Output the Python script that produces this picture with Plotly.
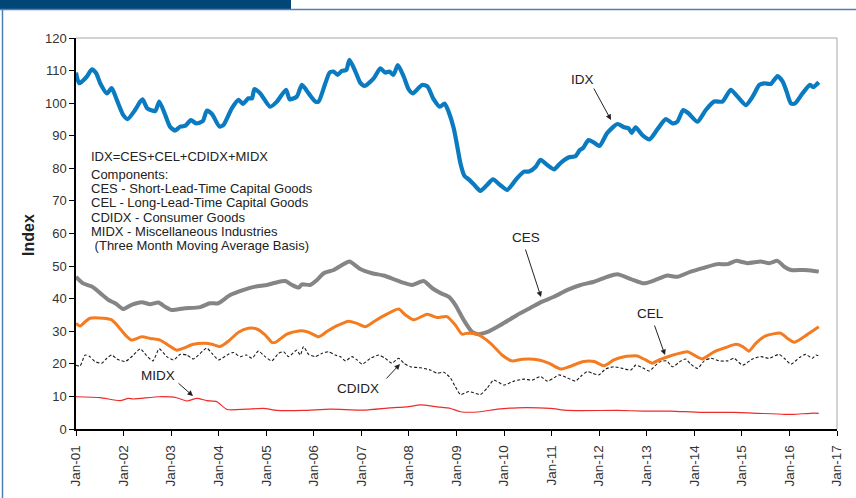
import pandas as pd
import plotly.graph_objects as go

# ---------------- data (months since Jan-2001, index value) ----------------
idx_m = [0, 0.8, 2.7, 4, 5.1, 6.1, 7.8, 9, 10.3, 11.9, 13, 14.9, 16.2, 16.8, 18, 20, 21, 22.5, 23.7, 25,
         26.3, 27.5, 29, 30.3, 32, 33, 34.3, 36.2, 37.2, 39.3, 41, 42.1, 43.5, 44.4, 45, 46.5, 49, 50.7,
         53, 53.9, 55.7, 57, 58.7, 60.4, 61.2, 62.9, 64, 65, 66, 67.1, 68.2, 69, 70.5, 71.7, 72.8, 75.1,
         76.8, 78, 79.1, 80.1, 81.2, 82.7, 83.9, 85, 87.3, 88.7, 90.1, 91.8, 93, 94, 95.3, 96.2, 97, 98,
         99.1, 100.5, 102, 103.7, 105.2, 107, 108.8, 111.3, 113, 114.3, 116, 117.2, 118.9, 120.6, 122.3,
         124.4, 126, 127.1, 127.9, 129.3, 130.7, 132.1, 134, 136.6, 138.3, 139.4, 140.2, 141.2, 142.9,
         144.7, 146.7, 148.8, 150.5, 151.7, 153.2, 154.5, 156.8, 158.9, 161, 163.1, 165.2, 166.9, 169,
         170.7, 172.4, 173.6, 175.3, 177, 178.3, 179.3, 180.4, 181.4, 183.3, 185.2, 186, 187.4]
idx_v = [109.4, 106.1, 108.1, 110.4, 109.2, 106.1, 103.0, 104.6, 101.0, 96.4, 95.1, 97.9, 100.5, 101.2,
         98.4, 97.6, 100.5, 96.4, 92.8, 91.6, 92.8, 93.0, 94.8, 93.8, 94.5, 97.7, 96.7, 92.8, 93.3, 98.4,
         101.0, 99.8, 101.5, 101.5, 104.3, 103.0, 98.9, 100.5, 104.1, 101.2, 102.0, 105.6, 103.0, 100.5,
         100.5, 106.1, 109.4, 109.7, 108.7, 109.9, 110.2, 113.3, 109.7, 106.3, 105.3, 107.6, 110.7, 109.4,
         109.7, 108.7, 111.7, 108.1, 104.3, 103.0, 105.6, 105.1, 101.5, 98.9, 99.9, 97.4, 92.3, 86.7, 81.5,
         77.7, 76.6, 74.9, 73.1, 74.9, 76.6, 74.9, 73.4, 77.0, 79.0, 79.0, 80.5, 82.6, 81.0, 79.7, 81.7,
         83.4, 83.7, 85.6, 86.2, 88.7, 87.9, 86.9, 90.8, 93.6, 92.6, 92.3, 90.9, 92.6, 90.2, 88.9, 92.0,
         95.1, 93.8, 94.3, 97.9, 96.9, 94.3, 97.9, 100.5, 100.5, 104.1, 102.0, 99.4, 102.0, 105.6, 106.1,
         105.9, 108.3, 106.6, 103.5, 99.9, 99.9, 103.0, 105.6, 104.9, 106.4]

ces_m = [0, 1.8, 4, 6.1, 8.2, 9.9, 11.9, 14, 16.6, 18.7, 20.8, 22.5, 24.2, 27.1, 31.3, 33.8, 35.9, 38.9,
         42.3, 45.2, 48.2, 50.3, 52.8, 54.5, 56.2, 57, 59.1, 60.8, 62.5, 65, 67.1, 69, 71.7, 74.7, 77.6,
         80.1, 82.3, 84.8, 87.7, 89.9, 92, 94, 95.7, 97.8, 100, 101.6, 103.7, 107.1, 111.3, 114.7, 117.6,
         120.6, 124, 127.3, 130.7, 134, 136.6, 140, 143.3, 146.7, 149.2, 151.7, 155.1, 158.5, 161.8, 164.4,
         166.5, 169.4, 172.8, 174.9, 177, 178.7, 180.4, 183.7, 186.2, 187.4]
ces_v = [46.7, 44.7, 43.7, 41.7, 39.6, 38.6, 36.8, 38.1, 38.9, 38.3, 38.8, 37.5, 36.5, 37.0, 37.4, 38.6,
         38.6, 41.1, 42.7, 43.7, 44.2, 44.9, 45.4, 44.2, 43.4, 44.4, 44.2, 45.7, 47.8, 48.8, 50.3, 51.4,
         49.1, 47.8, 47.1, 46.0, 45.0, 44.2, 45.4, 43.2, 41.7, 40.6, 38.1, 33.5, 29.7, 29.1, 29.7, 31.9,
         35.0, 37.2, 39.1, 40.6, 42.7, 44.2, 45.2, 46.7, 47.5, 46.0, 44.7, 46.0, 47.1, 46.7, 48.3, 49.5,
         50.6, 50.6, 51.6, 50.9, 51.4, 50.9, 51.6, 49.8, 48.8, 48.8, 48.5, 48.3]

cel_m = [0, 1, 2.3, 3.5, 6.9, 9, 10.7, 12.4, 14, 16.6, 18.7, 21.2, 23.2, 25.4, 27.1, 29.6, 32.6, 34.3,
         36.4, 38.5, 41, 43.5, 45.6, 47.7, 49.4, 50.3, 53.2, 56.2, 58.7, 61.2, 63.3, 65.9, 68.8, 70.9, 73,
         75.1, 77.6, 81.4, 83.1, 85.2, 88.6, 91.1, 93.6, 95.7, 97.4, 98.7, 101.2, 104.6, 107.5, 110, 112.6,
         116.8, 119.3, 122.3, 124.4, 128.1, 130.7, 133.2, 135.7, 138.3, 141.6, 143.7, 145.4, 147.1, 150.1,
         154.3, 155.9, 158, 161, 163.9, 166.5, 168.2, 169.8, 171.5, 174, 177.8, 179.5, 181.2, 183.7, 186.2,
         187.4]
cel_v = [32.4, 31.6, 32.9, 34.0, 34.0, 33.5, 31.4, 28.9, 27.3, 28.3, 27.8, 27.3, 25.8, 24.2, 24.8, 26.0,
         26.3, 26.0, 25.3, 27.0, 29.7, 30.9, 30.7, 28.9, 26.6, 26.6, 29.1, 30.1, 29.7, 28.3, 29.9, 31.7,
         33.1, 32.4, 31.4, 32.9, 34.7, 36.8, 35.0, 33.5, 35.2, 34.2, 34.5, 31.9, 29.1, 29.4, 29.1, 26.3,
         22.7, 20.9, 21.4, 21.2, 20.2, 18.4, 19.1, 20.7, 20.7, 19.4, 21.2, 22.2, 22.4, 21.2, 20.2, 21.2,
         22.5, 23.7, 22.7, 21.5, 23.7, 25.0, 26.0, 25.3, 23.9, 26.3, 28.6, 29.4, 27.8, 26.6, 28.3, 30.4,
         31.4]

cdidx_m = [0, 1, 2.3, 3.5, 4.8, 6.5, 7.8, 9, 10.3, 12.4, 14.5, 16.2, 17.7, 19.4, 21, 22.9, 24.6, 26.3, 28,
           29.6, 33, 34.3, 36, 38.1, 39.7, 41.4, 43, 44.4, 46, 47.7, 49.4, 51.1, 52.4, 53.6, 55.7, 56.6,
           57.4, 58.7, 60.4, 62, 63.7, 65.4, 66.7, 68, 69.6, 70.9, 72.2, 74.3, 76.4, 78, 79.7, 81.4, 82.7,
           84.4, 86.9, 89.4, 91.1, 92.8, 94.5, 95.7, 97, 99.1, 102, 103.7, 105.4, 107.9, 110.5, 113, 115.1,
           117.2, 118.9, 120.6, 121.8, 124, 126, 127.3, 129, 130.3, 131.9, 133.6, 135.7, 137.9, 140, 141.2,
           142.9, 144.6, 147.1, 149, 150.5, 152.6, 153.8, 155.1, 156.8, 158.5, 160.2, 162.3, 164.4, 166,
           168.2, 170.7, 172.8, 174.9, 177.4, 178.7, 180.4, 182.5, 184.1, 185.8, 186.7, 187.4]
cdidx_v = [19.6, 19.3, 22.7, 22.2, 20.7, 20.2, 21.7, 22.7, 21.5, 20.7, 22.7, 24.6, 22.7, 20.9, 24.6, 22.2,
           21.2, 22.9, 22.7, 21.5, 24.8, 23.2, 21.2, 22.7, 23.5, 22.2, 22.7, 21.7, 23.9, 22.2, 20.9, 23.2,
           23.7, 22.2, 24.2, 22.7, 25.3, 22.9, 22.2, 23.2, 23.7, 22.7, 22.2, 20.9, 22.2, 21.2, 19.9, 21.7,
           22.7, 21.7, 20.2, 21.7, 20.2, 19.1, 18.8, 18.1, 17.1, 17.4, 15.6, 13.0, 10.6, 11.5, 10.6, 12.5,
           15.0, 13.5, 14.7, 15.3, 15.0, 16.1, 14.7, 15.7, 16.6, 15.7, 14.7, 16.1, 17.6, 17.1, 16.6, 18.4,
           19.1, 18.6, 18.1, 19.6, 18.8, 17.8, 20.5, 20.9, 19.1, 20.9, 21.5, 19.9, 18.6, 20.9, 21.7, 20.9,
           20.9, 21.7, 19.6, 21.5, 22.2, 21.7, 22.9, 21.7, 19.9, 21.9, 22.9, 21.7, 22.7, 22.4]

midx_m = [0, 6.1, 11.1, 13.2, 14.5, 21, 25.4, 28, 30.5, 33, 35.5, 38.1, 43, 47.3, 50.7, 57.4, 64.2, 72.6,
          79.3, 83.5, 86.9, 91.1, 94.5, 97, 102, 106.3, 111.3, 119.7, 124, 136.6, 143.3, 150, 157.6, 166,
          178.7, 181, 186.2, 187.4]
midx_v = [9.9, 9.6, 8.7, 9.4, 9.2, 9.9, 9.6, 8.6, 9.4, 8.7, 8.4, 6.0, 6.1, 6.3, 5.7, 5.7, 6.1, 5.8, 6.5,
          6.8, 7.4, 6.8, 6.3, 5.3, 5.3, 6.1, 6.5, 6.3, 5.7, 5.7, 5.5, 5.5, 5.1, 5.1, 4.5, 4.5, 4.9, 4.8]

x_tick_labels = ["Jan-%02d" % y for y in range(1, 18)]
x_tick_years = list(range(2001, 2018))
y_ticks = list(range(0, 121, 10))

note_title = "IDX=CES+CEL+CDIDX+MIDX"
note_lines = ["Components:",
              "CES - Short-Lead-Time Capital Goods",
              "CEL - Long-Lead-Time Capital Goods",
              "CDIDX - Consumer Goods",
              "MIDX - Miscellaneous Industries",
              " (Three Month Moving Average Basis)"]

# ---------------- helpers ----------------
BASE = pd.Timestamp("2001-01-01")


def to_dates(months):
    return [BASE + pd.Timedelta(days=m * 365.25 / 12) for m in months]


W, H = 856, 498
L, R, T, B = 76, 837, 38, 429  # plot area in pixels


def px(xp):
    return (xp - L) / (R - L)


def py(yp):
    return (B - yp) / (B - T)


FONT = "Liberation Sans, Arial, Helvetica, sans-serif"

fig = go.Figure()

series = [
    ("CDIDX", cdidx_m, cdidx_v, dict(color="#1a1a1a", width=1.1, dash="3px,2px")),
    ("MIDX", midx_m, midx_v, dict(color="#ee2a2a", width=1.2)),
    ("CES", ces_m, ces_v, dict(color="#858585", width=4)),
    ("CEL", cel_m, cel_v, dict(color="#f47b20", width=3)),
    ("IDX", idx_m, idx_v, dict(color="#0a7bc1", width=4.2)),
]
for name, m, v, line in series:
    line = dict(line, shape="spline", smoothing=0.6)
    fig.add_trace(go.Scatter(x=to_dates(m), y=v, mode="lines", name=name, line=line,
                             showlegend=False, hoverinfo="x+y+name"))

fig.update_layout(
    width=W, height=H,
    margin=dict(l=L, r=W - R, t=T, b=H - B, pad=0),
    paper_bgcolor="white", plot_bgcolor="white",
    font=dict(family=FONT, size=13, color="#333"),
    showlegend=False,
)
fig.update_xaxes(
    type="date",
    range=[BASE, pd.Timestamp("2017-01-01")],
    tickvals=[pd.Timestamp(f"{y}-01-01") for y in x_tick_years],
    ticktext=x_tick_labels,
    tickangle=-90,
    ticks="outside", ticklen=5, tickcolor="#000", tickwidth=1,
    ticklabelstandoff=4,
    showline=True, linecolor="#000", linewidth=1.5,
    showgrid=False, zeroline=False,
    tickfont=dict(family=FONT, size=13.5, color="#333"),
)
fig.update_yaxes(
    range=[0, 120],
    tickvals=y_ticks,
    ticks="outside", ticklen=5, tickcolor="#000", tickwidth=1,
    showline=True, linecolor="#000", linewidth=1.5,
    showgrid=False, zeroline=False,
    tickfont=dict(family=FONT, size=13, color="#333"),
)

# plot-frame top/right borders (gray) and page decoration
shapes = [
    dict(type="line", xref="paper", yref="paper", x0=0, x1=1, y0=1, y1=1,
         line=dict(color="#a6a6a6", width=1)),
    dict(type="line", xref="paper", yref="paper", x0=1, x1=1, y0=0, y1=1,
         line=dict(color="#a6a6a6", width=1)),
    dict(type="rect", xref="paper", yref="paper", x0=px(0), x1=px(291), y0=py(0), y1=py(9),
         line=dict(width=0), fillcolor="#004677"),
    dict(type="line", xref="paper", yref="paper", x0=px(0), x1=px(W), y0=py(9.5), y1=py(9.5),
         line=dict(color="#4f7fb3", width=1.5)),
    dict(type="line", xref="paper", yref="paper", x0=px(2.5), x1=px(2.5), y0=py(9.5), y1=py(H),
         line=dict(color="#4f7fb3", width=1.5)),
]
fig.update_layout(shapes=shapes)

ann = []
# axis title
ann.append(dict(text="<b>Index</b>", xref="paper", yref="paper", x=px(28), y=py(235), showarrow=False,
                textangle=-90, font=dict(family=FONT, size=16, color="#222"),
                xanchor="center", yanchor="middle"))
# explanatory text block
ann.append(dict(text=note_title, xref="paper", yref="paper", x=px(89), y=py(156), showarrow=False,
                xanchor="left", yanchor="middle", font=dict(family=FONT, size=13, color="#222")))
for i, t in enumerate(note_lines):
    ann.append(dict(text=t.replace(" ", "&nbsp;", 1) if t.startswith(" ") else t,
                    xref="paper", yref="paper", x=px(89), y=py(174 + i * 14.35),
                    showarrow=False, xanchor="left", yanchor="middle",
                    font=dict(family=FONT, size=13, color="#222")))

# series labels with arrows: (label, label centre, arrow tail, arrow head) in pixels
labels = [
    ("IDX", (582, 79), (593, 87), (611, 120)),
    ("CES", (526, 238), (525, 248), (541, 297)),
    ("CEL", (650, 313), (654, 324), (665, 355)),
    ("CDIDX", (358, 388), (385, 380), (400, 364)),
    ("MIDX", (158, 375), (177, 382), (193, 396)),
]
for text, (cx, cy), (tx, ty), (hx, hy) in labels:
    ann.append(dict(text=text, xref="paper", yref="paper", x=px(cx), y=py(cy), showarrow=False,
                    xanchor="center", yanchor="middle",
                    font=dict(family=FONT, size=13.5, color="#222")))
    ann.append(dict(text="", xref="paper", yref="paper", x=px(hx), y=py(hy),
                    ax=tx - hx, ay=ty - hy, axref="pixel", ayref="pixel",
                    showarrow=True, arrowhead=2, arrowsize=1.1, arrowwidth=1,
                    arrowcolor="#222", standoff=0, startstandoff=0))
fig.update_layout(annotations=ann)

fig.write_html("out.html", config={"displayModeBar": False},
               post_script="document.body.style.margin='0px';document.body.style.overflow='hidden';")
